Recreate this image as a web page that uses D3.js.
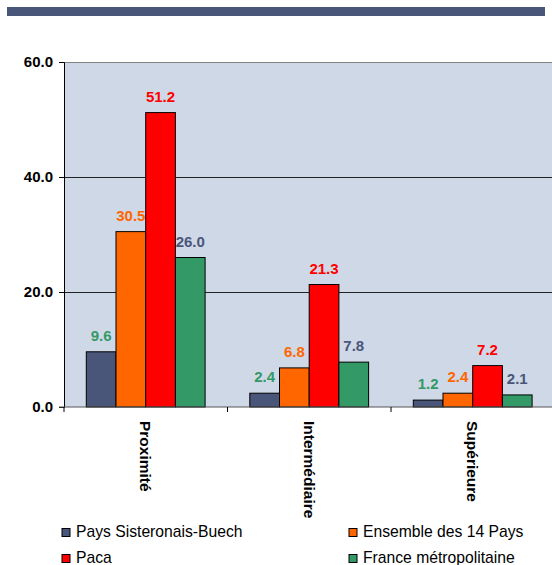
<!DOCTYPE html>
<html><head><meta charset="utf-8">
<script src="https://cdn.jsdelivr.net/npm/d3@7"></script>
<style>body{margin:0;background:#fff}svg{display:block;font-family:"Liberation Sans",Arial,sans-serif}</style>
</head><body>
<script>
const categories = ["Proximité", "Intermédiaire", "Supérieure"];
const seriesNames = ["Pays Sisteronais-Buech", "Ensemble des 14 Pays", "Paca", "France métropolitaine"];
const paysSisteronais = [9.6, 2.4, 1.2];
const ensemble14 = [30.5, 6.8, 2.4];
const paca = [51.2, 21.3, 7.2];
const franceMetro = [26.0, 7.8, 2.1];
const yTicks = [0, 20, 40, 60];

const seriesValues = [paysSisteronais, ensemble14, paca, franceMetro];
const barColors = ["#4A5679", "#FF6600", "#FF0000", "#339966"];
const labelColors = ["#339966", "#FF6600", "#FF0000", "#4A5679"];

const W = 552, H = 565;
const svg = d3.select("body").append("svg").attr("width", W).attr("height", H);

svg.append("rect").attr("x", 7).attr("y", 7).attr("width", 538).attr("height", 9).attr("fill", "#4A5679");

const pLeft = 64, pRight = 554.5, pTop = 62, pBottom = 407;
const x = d3.scaleBand().domain(categories).range([pLeft, pRight]).paddingInner(0).paddingOuter(0);
const xs = d3.scaleBand().domain(d3.range(4)).range([22.3, 22.3 + 118.8]).padding(0);
const y = d3.scaleLinear().domain([0, 60]).range([pBottom, pTop]);

svg.append("rect").attr("x", pLeft).attr("y", pTop).attr("width", pRight - pLeft).attr("height", pBottom - pTop).attr("fill", "#CFD8E7");

// gridlines
svg.append("g").selectAll("line").data(yTicks.filter(t => t > 0)).join("line")
  .attr("x1", pLeft).attr("x2", pRight).attr("y1", d => y(d)).attr("y2", d => y(d))
  .attr("stroke", d => d === 60 ? "#808080" : "#222").attr("stroke-width", 1).attr("shape-rendering", "crispEdges");

// bars
const groups = svg.append("g").selectAll("g").data(categories).join("g")
  .attr("transform", d => `translate(${x(d)},0)`);
groups.each(function(cat, ci) {
  const g = d3.select(this);
  seriesValues.forEach((vals, si) => {
    g.append("text")
      .attr("x", xs(si) + xs.bandwidth() / 2).attr("y", y(vals[ci]) - 11)
      .attr("text-anchor", "middle").attr("font-size", 15).attr("font-weight", "bold")
      .attr("fill", labelColors[si]).text(vals[ci].toFixed(1));
  });
  seriesValues.forEach((vals, si) => {
    g.append("rect")
      .attr("x", xs(si)).attr("y", y(vals[ci])).attr("width", xs.bandwidth()).attr("height", y(0) - y(vals[ci]))
      .attr("fill", barColors[si]).attr("stroke", "#000").attr("stroke-width", 1);
  });
});

// y axis
const yAxis = d3.axisLeft(y).tickValues(yTicks).tickFormat(d3.format(".1f")).tickSize(5).tickPadding(6);
const ya = svg.append("g").attr("transform", `translate(${pLeft},0)`).call(yAxis);
ya.select(".domain").attr("stroke", "#000");
ya.selectAll(".tick line").attr("stroke", "#000");
ya.selectAll(".tick text").attr("font-size", 15).attr("font-weight", "bold").attr("fill", "#000").attr("font-family", "Liberation Sans, Arial, sans-serif");

// x axis
svg.append("line").attr("x1", pLeft - 5).attr("x2", pRight).attr("y1", pBottom).attr("y2", pBottom).attr("stroke", "#555");
const catTicks = categories.map(c => x(c)).concat([pRight]);
svg.append("g").selectAll("line").data(catTicks).join("line")
  .attr("x1", d => d).attr("x2", d => d).attr("y1", pBottom).attr("y2", pBottom + 5).attr("stroke", "#000");
svg.append("g").selectAll("text").data(categories).join("text")
  .attr("transform", d => `translate(${x(d) + x.bandwidth() / 2 - 5.5},421) rotate(90)`)
  .attr("font-size", 15.5).attr("font-weight", "bold").attr("fill", "#000")
  .text(d => d);

// legend
const legPos = [[62, 537], [349, 537], [62, 563], [349, 563]];
const leg = svg.append("g").selectAll("g").data(seriesNames).join("g")
  .attr("transform", (d, i) => `translate(${legPos[i][0]},${legPos[i][1]})`);
leg.append("rect").attr("x", 0).attr("y", -8.5).attr("width", 8).attr("height", 8)
  .attr("fill", (d, i) => barColors[i]).attr("stroke", "#000").attr("stroke-width", 1);
leg.append("text").attr("x", 14).attr("y", 0).attr("font-size", 15.7).attr("fill", "#000").text(d => d);
</script>
</body></html>
